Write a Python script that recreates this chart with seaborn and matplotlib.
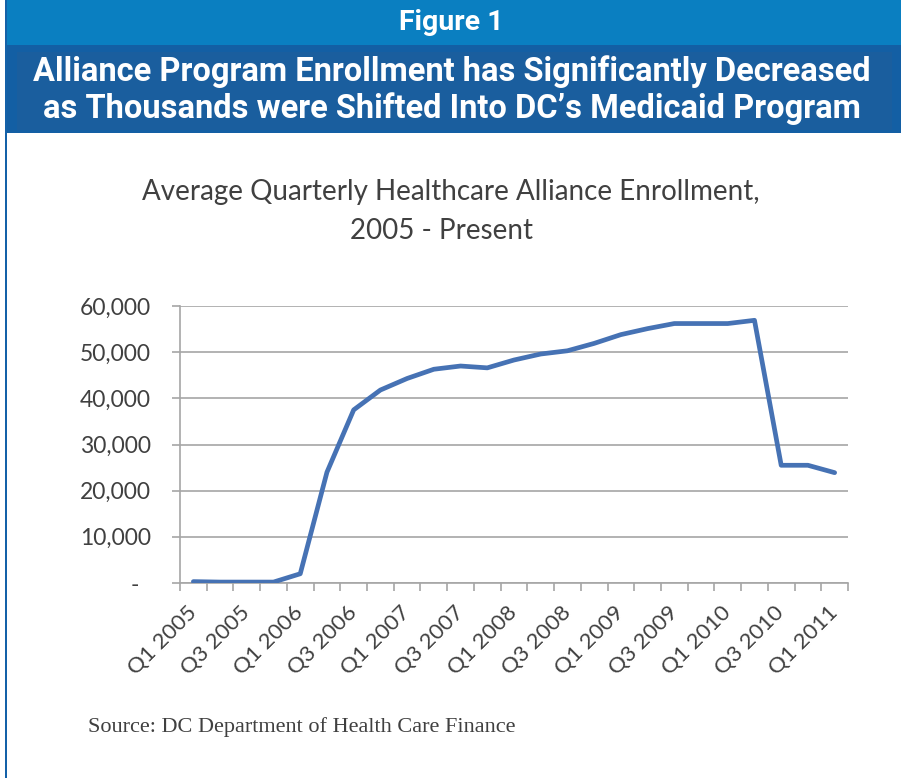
import matplotlib
matplotlib.use("Agg")
import matplotlib.pyplot as plt
import matplotlib.font_manager as fm
from matplotlib.patches import Rectangle
from matplotlib.ticker import FuncFormatter
import seaborn as sns
import pandas as pd

quarters = ["Q1 2005", "Q2 2005", "Q3 2005", "Q4 2005",
            "Q1 2006", "Q2 2006", "Q3 2006", "Q4 2006",
            "Q1 2007", "Q2 2007", "Q3 2007", "Q4 2007",
            "Q1 2008", "Q2 2008", "Q3 2008", "Q4 2008",
            "Q1 2009", "Q2 2009", "Q3 2009", "Q4 2009",
            "Q1 2010", "Q2 2010", "Q3 2010", "Q4 2010",
            "Q1 2011"]
enrollment = [300, 200, 200, 200,
              2000, 24000, 37500, 41800,
              44300, 46300, 47000, 46600,
              48300, 49600, 50300, 51900,
              53800, 55100, 56200, 56200,
              56200, 56900, 25500, 25500,
              23900]
y_ticks = [0, 10000, 20000, 30000, 40000, 50000, 60000]

header_top = "Figure 1"
header_lines = ["Alliance Program Enrollment has Significantly Decreased",
                "as Thousands were Shifted Into DC\u2019s Medicaid Program"]
chart_title = ["Average Quarterly Healthcare Alliance Enrollment,",
               "2005 - Present"]
source_text = "Source: DC Department of Health Care Finance"

df = pd.DataFrame({"pos": list(range(len(quarters))), "enrollment": enrollment})

sns.set_theme(style="white")
plt.rcParams["font.family"] = ["Lato", "DejaVu Sans"]

names = {f.name for f in fm.fontManager.ttflist}
if "Liberation Sans Narrow" in names:
    head_family = ["Liberation Sans Narrow", "DejaVu Sans"]
    fig_size, head_size = 24, 27
else:
    head_family = ["Roboto", "DejaVu Sans"]
    fig_size, head_size = 20.5, 23.5

W, H = 901, 778
fig = plt.figure(figsize=(W / 100, H / 100), dpi=100)
fig.patch.set_facecolor("white")

def rect(x0, y0, x1, y1, color, z=0):
    fig.patches.append(Rectangle((x0 / W, 1 - y1 / H), (x1 - x0) / W, (y1 - y0) / H,
                                 transform=fig.transFigure, facecolor=color,
                                 edgecolor="none", zorder=z))

# header bands and border
rect(6, 0, W, 45, "#0a7fc1")
rect(6, 45, W, 133, "#135fa4")
rect(17, 52, 892, 130, "#1a5e9e")
rect(5, 0, 7.5, H, "#1461a8")

fig.text(451 / W, 1 - 23 / H, header_top, color="white", ha="center", va="center",
         fontsize=fig_size, fontweight="bold", family=head_family)
fig.text(452 / W, 1 - 72 / H, header_lines[0], color="white", ha="center", va="center",
         fontsize=head_size, fontweight="bold", family=head_family)
fig.text(452 / W, 1 - 109 / H, header_lines[1], color="white", ha="center", va="center",
         fontsize=head_size, fontweight="bold", family=head_family)

fig.text(451 / W, 1 - 192 / H, chart_title[0], color="#404040", ha="center", va="center",
         fontsize=20)
fig.text(441 / W, 1 - 231 / H, chart_title[1], color="#404040", ha="center", va="center",
         fontsize=20)

fig.text(88 / W, 1 - 727 / H, source_text, color="#404040", ha="left", va="center",
         fontsize=16, family=["Liberation Serif", "DejaVu Serif"])

ax = fig.add_axes([180 / W, 1 - 583 / H, (848 - 180) / W, (583 - 306) / H])
ax.set_facecolor("white")

sns.lineplot(data=df, x="pos", y="enrollment", ax=ax, color="#4672b4",
             linewidth=3.4, solid_joinstyle="round", solid_capstyle="round", zorder=3)

ax.set_xlim(-0.5, len(quarters) - 0.5)
ax.set_ylim(0, 60000)
ax.set_xlabel("")
ax.set_ylabel("")

grid_c = "#a6a6a6"
ax.set_yticks(y_ticks)
ax.yaxis.set_major_formatter(FuncFormatter(lambda v, p: "-  " if v == 0 else f"{int(v):,}"))
ax.grid(axis="y", color=grid_c, linewidth=1.2)
ax.grid(axis="x", visible=False)

for s in ["top", "right"]:
    ax.spines[s].set_visible(False)
for s in ["left", "bottom"]:
    ax.spines[s].set_color(grid_c)
    ax.spines[s].set_linewidth(1.2)

ax.tick_params(axis="y", which="major", length=6, width=1.2, color=grid_c,
               pad=15, labelsize=16.5, labelcolor="#404040", left=True)

boundaries = [i - 0.5 for i in range(len(quarters) + 1)]
ax.set_xticks(boundaries)
ax.set_xticklabels([""] * len(boundaries))
ax.tick_params(axis="x", which="major", length=6, width=1.2, color=grid_c, bottom=True)

label_pos = list(range(0, len(quarters), 2))
ax.set_xticks(label_pos, minor=True)
ax.set_xticklabels([quarters[i] for i in label_pos], minor=True, rotation=45,
                   ha="right", va="center", rotation_mode="anchor")
ax.tick_params(axis="x", which="minor", length=0, pad=19, labelsize=16,
               labelcolor="#404040", bottom=True)

fig.savefig("out.png", dpi=100, facecolor="white")
